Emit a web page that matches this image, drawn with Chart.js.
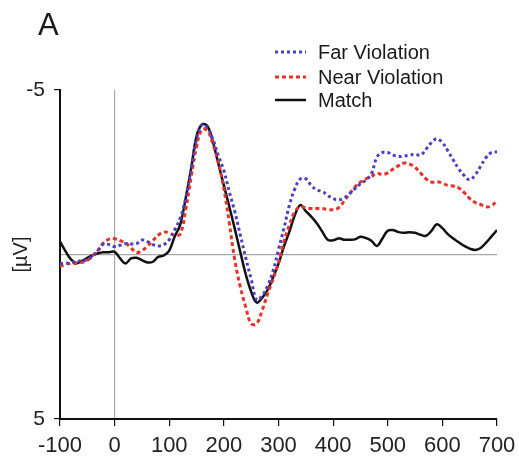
<!DOCTYPE html>
<html>
<head>
<meta charset="utf-8">
<script src="https://cdn.jsdelivr.net/npm/chart.js@4.4.1/dist/chart.umd.min.js"></script>
<style>
  body { margin: 0; background: #fff; }
  #wrap { width: 519px; height: 461px; position: relative; }
</style>
</head>
<body>
<div id="wrap"><canvas id="erpChart"></canvas></div>
<script>
const times = [-100, -90, -80, -70, -60, -50, -40, -30, -20, -10, 0, 10, 20, 30, 40, 50, 60, 70, 80, 90,
  100, 110, 120, 130, 140, 150, 160, 170, 180, 190, 200, 210, 220, 230, 240, 250, 260, 270, 280, 290,
  300, 310, 320, 330, 340, 350, 360, 370, 380, 390, 400, 410, 420, 430, 440, 450, 460, 470, 480, 490,
  500, 510, 520, 530, 540, 550, 560, 570, 580, 590, 600, 610, 620, 630, 640, 650, 660, 670, 680, 690, 700];

const farViolation = [0.27, 0.27, 0.25, 0.21, 0.19, 0.15, 0.05, -0.14, -0.32, -0.3, -0.24, -0.28, -0.33, -0.32, -0.33, -0.44, -0.39, -0.3, -0.26, -0.3,
  -0.45, -0.75, -1.1, -1.7, -2.6, -3.5, -3.95, -3.85, -3.5, -3.0, -2.55, -1.9, -1.3, -0.6, 0.1, 0.75, 1.38, 1.25, 0.95, 0.5,
  -0.15, -0.8, -1.5, -2.0, -2.3, -2.3, -2.1, -1.96, -1.92, -1.8, -1.7, -1.66, -1.72, -1.85, -2.0, -2.15, -2.26, -2.45, -2.95, -3.1,
  -3.1, -3.02, -2.98, -2.99, -3.02, -3.05, -3.02, -3.2, -3.4, -3.52, -3.4, -3.15, -2.87, -2.6, -2.4, -2.27, -2.42, -2.68, -2.95, -3.1, -3.12];

const nearViolation = [0.37, 0.3, 0.27, 0.27, 0.24, 0.18, 0.03, -0.14, -0.36, -0.47, -0.48, -0.42, -0.35, -0.2, -0.06, -0.12, -0.25, -0.42, -0.59, -0.68,
  -0.66, -0.58, -0.62, -1.35, -2.35, -3.28, -3.8, -3.75, -3.35, -2.8, -2.0, -0.95, 0.17, 0.98, 1.6, 2.1, 2.1, 1.7, 1.2, 0.75,
  0.25, -0.4, -0.9, -1.3, -1.45, -1.42, -1.4, -1.4, -1.4, -1.37, -1.36, -1.42, -1.62, -1.84, -2.05, -2.2, -2.3, -2.37, -2.47, -2.43,
  -2.48, -2.6, -2.7, -2.78, -2.75, -2.65, -2.48, -2.3, -2.2, -2.21, -2.17, -2.1, -2.08, -2.02, -1.88, -1.7, -1.58, -1.52, -1.45, -1.48, -1.64];

const match = [-0.39, -0.1, 0.15, 0.26, 0.2, 0.1, 0.02, -0.04, -0.07, -0.07, -0.08, 0.12, 0.27, 0.12, 0.1, 0.17, 0.24, 0.22, 0.07, 0.03,
  -0.12, -0.55, -0.9, -1.7, -2.6, -3.6, -3.95, -3.9, -3.42, -2.75, -2.1, -1.45, -0.78, -0.08, 0.6, 1.13, 1.46, 1.32, 1.08, 0.7,
  0.28, -0.25, -0.7, -1.2, -1.5, -1.32, -1.15, -0.95, -0.7, -0.45, -0.43, -0.49, -0.45, -0.45, -0.46, -0.54, -0.5, -0.42, -0.26, -0.48,
  -0.72, -0.74, -0.68, -0.66, -0.68, -0.66, -0.6, -0.57, -0.72, -0.92, -0.8, -0.62, -0.49, -0.37, -0.26, -0.18, -0.14, -0.2, -0.36, -0.55, -0.74];

const seriesNames = ["Far Violation", "Near Violation", "Match"];
const xTicks = [-100, 0, 100, 200, 300, 400, 500, 600, 700];
const yTicks = [-5, 5];

function toPoints(values) {
  return values.map((v, i) => ({ x: times[i], y: v }));
}

const FONT = "'Liberation Sans', Arial, sans-serif";
const ZERO_GRAY = "#a8a8a8";

// panel letter and legend, drawn on top of the chart
const overlayPlugin = {
  id: "overlay",
  afterDraw(chart) {
    const c = chart.ctx;
    c.save();
    c.fillStyle = "#1a1a1a";
    c.font = "31px " + FONT;
    c.textBaseline = "alphabetic";
    c.textAlign = "left";
    c.fillText("A", 38, 35);

    c.font = "20px " + FONT;
    c.textBaseline = "middle";
    const rows = [52, 77, 100];
    chart.data.datasets.forEach((ds, i) => {
      const y = rows[i];
      c.beginPath();
      c.setLineDash(ds.borderDash || []);
      c.strokeStyle = ds.borderColor;
      c.lineWidth = ds.borderWidth;
      c.moveTo(275, y);
      c.lineTo(306, y);
      c.stroke();
      c.setLineDash([]);
      c.fillStyle = "#1a1a1a";
      c.fillText(ds.label, 318, y + 1);
    });
    c.restore();
  },
};

const ctx = document.getElementById("erpChart");
const erpChart = new Chart(ctx, {
  type: "line",
  data: {
    datasets: [
      {
        label: seriesNames[0],
        data: toPoints(farViolation),
        borderColor: "#4b3fc4",
        borderWidth: 3,
        borderDash: [3, 3],
        pointRadius: 0,
        tension: 0.4,
      },
      {
        label: seriesNames[1],
        data: toPoints(nearViolation),
        borderColor: "#e5332a",
        borderWidth: 3,
        borderDash: [4, 3],
        pointRadius: 0,
        tension: 0.4,
      },
      {
        label: seriesNames[2],
        data: toPoints(match),
        borderColor: "#111111",
        borderWidth: 2.5,
        pointRadius: 0,
        tension: 0.4,
      },
    ],
  },
  options: {
    responsive: true,
    maintainAspectRatio: false,
    animation: false,
    layout: {
      padding: { top: 90, right: 22, left: 0, bottom: 0 },
    },
    scales: {
      x: {
        type: "linear",
        min: -100,
        max: 700,
        afterBuildTicks: (scale) => {
          scale.ticks = xTicks.map((v) => ({ value: v }));
        },
        afterFit: (scale) => {
          scale.height = 42;
        },
        ticks: {
          color: "#222",
          font: { family: FONT, size: 22, lineHeight: 1.6 },
          padding: 2,
          maxRotation: 0,
          autoSkip: false,
        },
        grid: {
          color: (c) => (c.tick && c.tick.value === 0 ? ZERO_GRAY : "transparent"),
          tickColor: "#111",
          tickLength: 7,
          lineWidth: 1.2,
        },
        border: { color: "#111", width: 2 },
      },
      y: {
        min: -5,
        max: 5,
        reverse: true,
        afterBuildTicks: (scale) => {
          scale.ticks = yTicks.concat([0]).map((v) => ({ value: v }));
        },
        afterFit: (scale) => {
          scale.width = 60;
        },
        ticks: {
          color: "#222",
          font: { family: FONT, size: 21 },
          padding: 9,
          callback: (v) => (yTicks.includes(v) ? String(v) : ""),
        },
        grid: {
          color: (c) => (c.tick && c.tick.value === 0 ? ZERO_GRAY : "transparent"),
          tickColor: (c) => (c.tick && c.tick.value === 0 ? "transparent" : "#111"),
          tickLength: 6,
          lineWidth: 1.2,
        },
        border: { color: "#111", width: 2 },
        title: {
          display: true,
          text: "[µV]",
          color: "#222",
          font: { family: FONT, size: 20 },
          padding: { top: 9, bottom: 0 },
        },
      },
    },
    plugins: {
      legend: { display: false },
      tooltip: { enabled: false },
    },
  },
  plugins: [overlayPlugin],
});
</script>
</body>
</html>
